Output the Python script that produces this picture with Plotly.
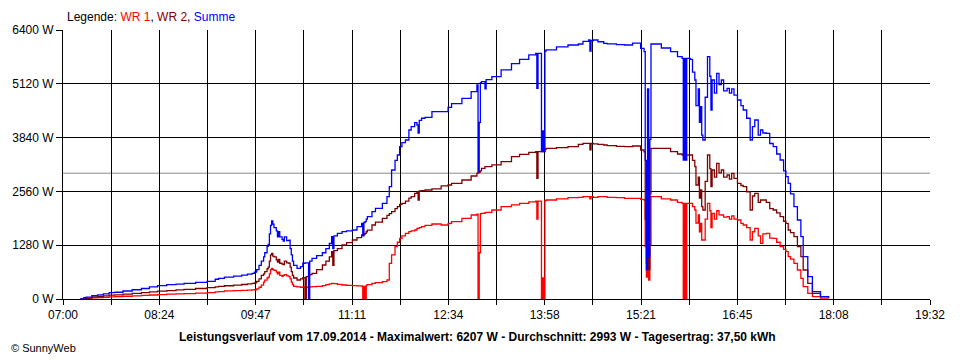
import plotly.graph_objects as go

# ---------------- data ----------------
times = ["07:15","07:18","07:20","07:25","07:30","07:35","07:40","07:45","07:52","08:00",
         "08:08","08:15","08:22","08:30","08:38","08:45","08:55","09:05","09:12","09:15",
         "09:20","09:28","09:35","09:40","09:44","09:46","09:48","09:50","09:52","09:54",
         "09:55","09:57","09:58","09:59","10:00","10:01","10:02","10:03","10:05","10:06",
         "10:07","10:08","10:10","10:11","10:12","10:14","10:16","10:17","10:18","10:19",
         "10:20","10:23","10:26","10:28","10:30","10:31","10:33","10:34","10:36","10:40",
         "10:45","10:48","10:51","10:53","10:54","10:55","10:58","11:02","11:06","11:11",
         "11:15","11:19","11:20","11:21","11:22","11:23","11:24","11:28","11:31","11:37",
         "11:41","11:43","11:45","11:48","11:50","11:52","11:54","11:57","12:00","12:02",
         "12:05","12:07","12:08","12:09","12:11","12:14","12:20","12:28","12:34","12:37",
         "12:46","12:54","12:59","13:00","13:01","13:02","13:03","13:06","13:07","13:12",
         "13:20","13:29","13:36","13:44","13:50","13:51","13:52","13:55","13:56","13:57",
         "13:58","13:59","14:08","14:18","14:27","14:31","14:36","14:37","14:38","14:40",
         "14:44","14:49","14:52","15:00","15:07","15:14","15:21","15:24","15:25","15:26",
         "15:27","15:28","15:29","15:30","15:39","15:47","15:53","15:57","15:58","15:59",
         "16:00","16:01","16:04","16:06","16:08","16:09","16:11","16:12","16:13","16:14",
         "16:15","16:17","16:19","16:21","16:22","16:23","16:25","16:27","16:29","16:31",
         "16:33","16:36","16:38","16:40","16:42","16:45","16:48","16:50","16:53","16:56",
         "16:58","17:00","17:03","17:05","17:07","17:10","17:13","17:16","17:19","17:22",
         "17:25","17:27","17:29","17:31","17:34","17:37","17:40","17:42","17:46","17:50",
         "17:57","18:04"]

wr1 = [0,0,10,30,35,40,50,55,65,75,
       85,95,105,115,120,130,140,150,170,175,
       195,200,205,210,215,220,240,280,330,400,
       450,500,520,600,700,730,700,680,640,600,
       640,560,540,560,580,550,530,480,400,340,
       300,290,280,285,0,280,285,290,293,300,
       320,340,360,373,370,365,350,333,325,317,
       312,309,0,300,0,330,340,373,390,412,
       452,849,1050,1245,1350,1444,1500,1560,1602,1620,
       1642,1680,1680,1700,1722,1750,1784,1761,1800,1840,
       1920,1999,2020,0,1100,2030,2039,2053,2060,2117,
       2196,2240,2276,2310,2331,1900,2331,0,500,0,
       2340,2355,2380,2410,2420,2434,2434,2380,2434,2420,
       2434,2434,2420,2410,2394,2394,2370,2355,1245,520,
       1000,450,1300,2434,2380,2355,2300,2276,0,2276,
       0,2276,2276,2200,2117,1808,2000,1600,1801,1404,
       1404,1900,2276,2100,1700,2039,1900,2100,2000,1999,
       1950,1959,1900,1980,1900,1880,1800,1761,1700,1404,
       1600,1682,1500,1325,1550,1563,1450,1444,1350,1245,
       1180,1126,1007,950,849,690,492,293,135,55,
       20,15]

wr2 = [0,0,20,50,60,75,90,100,115,135,
       150,170,185,200,215,230,250,270,290,300,
       315,330,345,360,373,385,420,480,560,600,
       650,720,760,900,1050,1087,1020,1000,930,880,
       940,850,830,820,900,860,850,760,650,560,
       500,452,480,510,0,530,560,580,611,700,
       809,900,1000,1126,800,1150,1200,1285,1340,1404,
       1460,1523,1523,1540,1560,1600,1640,1761,1830,1920,
       1990,2030,2077,2150,2200,2250,2276,2330,2400,2434,
       2514,2550,2355,2570,2580,2593,2620,2690,2712,2750,
       2831,2926,2990,3010,3020,3050,3109,3148,3150,3190,
       3267,3386,3440,3490,3505,2871,3505,3505,3505,3505,
       3560,3585,3600,3624,3680,3704,3704,3550,3700,3690,
       3680,3664,3650,3630,3624,3640,3545,3500,1900,860,
       1600,700,2500,3585,3585,3505,3450,3426,3426,3426,
       3426,3426,3426,3300,3148,2712,2900,2400,2593,2200,
       2117,2800,3426,3100,2672,3069,2900,3228,3000,3069,
       2900,2950,2850,2990,2870,2752,2700,2672,2550,2117,
       2450,2514,2300,2355,2355,2300,2150,2117,2050,1959,
       1850,1801,1642,1580,1483,1245,1007,690,373,135,
       55,25]

summe = [0,30,45,80,100,120,150,160,190,220,
         250,290,320,340,355,370,395,420,470,490,
         520,545,570,590,610,640,700,800,900,1000,
         1100,1250,1300,1550,1750,1860,1780,1700,1620,1480,
         1600,1480,1420,1380,1480,1390,1400,1200,1050,900,
         800,730,770,850,860,860,0,900,968,1030,
         1100,1200,1320,1483,1200,1500,1560,1602,1620,1642,
         1720,1801,1500,1820,1840,1900,1959,2080,2157,2276,
         2434,2672,3069,3300,3426,3624,3720,3783,4021,4100,
         4195,4140,3950,4250,4300,4322,4457,4457,4560,4650,
         4775,4933,5092,3029,4200,5150,5171,5000,5220,5290,
         5449,5600,5700,5806,5846,5013,5846,3505,4000,3505,
         5900,5925,6000,6043,6067,6130,6162,5900,6150,6162,
         6120,6083,6070,6050,6043,6090,5965,5886,3300,700,
         5000,1000,3800,6067,5972,5886,5766,5727,3307,5727,
         3307,5727,5700,5400,5211,4600,5000,4200,4576,3900,
         3783,4800,5766,5300,4497,5211,4900,5370,5100,5211,
         4950,5013,4900,5000,4850,4735,4600,4497,4300,3783,
         4100,4259,3900,4021,3950,3942,3700,3624,3450,3307,
         3050,2910,2752,2500,2196,1880,1483,1007,530,174,
         55,40]

y_ticks = [0, 1280, 2560, 3840, 5120, 6400]
y_labels = ["0 W", "1280 W", "2560 W", "3840 W", "5120 W", "6400 W"]
x_labels = ["07:00", "08:24", "09:47", "11:11", "12:34", "13:58", "15:21", "16:45", "18:08", "19:32"]
average = 2993

title_text = ("Leistungsverlauf vom 17.09.2014 - Maximalwert: 6207 W - "
              "Durchschnitt: 2993 W - Tagesertrag: 37,50 kWh")

# ---------------- helpers ----------------
def to_min(s):
    h, m = s.split(":")
    return int(h) * 60 + int(m)

x = [to_min(t) for t in times]
x_start = to_min(x_labels[0])
x_end = to_min(x_labels[-1])
n_grid = 2 * (len(x_labels) - 1)
grid_vals = [x_start + i * (x_end - x_start) / n_grid for i in range(n_grid + 1)]
grid_text = [x_labels[i // 2] if i % 2 == 0 else "" for i in range(n_grid + 1)]

FONT = "Liberation Sans, Arial, sans-serif"

fig = go.Figure()
for name, vals, col in [("WR 1", wr1, "#ff0000"), ("WR 2", wr2, "#800000"), ("Summe", summe, "#0000ff")]:
    fig.add_trace(go.Scatter(x=x, y=vals, mode="lines", name=name,
                             line=dict(color=col, width=1.3, shape="hv")))

fig.add_shape(type="line", xref="paper", x0=0, x1=1, yref="y", y0=average, y1=average,
              line=dict(color="#8c8c8c", width=1), layer="below")

fig.update_layout(
    width=960, height=360,
    margin=dict(l=60, r=30, t=30, b=61),
    paper_bgcolor="white", plot_bgcolor="white",
    showlegend=False,
    font=dict(family=FONT, size=12, color="black"),
    xaxis=dict(range=[x_start, x_end], tickvals=grid_vals, ticktext=grid_text,
               showgrid=True, gridcolor="black", gridwidth=1,
               showline=True, linecolor="black", linewidth=1, mirror=False,
               ticks="outside", ticklen=5, tickcolor="black", zeroline=False,
               tickfont=dict(family=FONT, size=12)),
    yaxis=dict(range=[0, 6400], tickvals=y_ticks, ticktext=y_labels,
               showgrid=True, gridcolor="black", gridwidth=1,
               showline=True, linecolor="black", linewidth=1,
               ticks="outside", ticklen=6, tickcolor="black", zeroline=False,
               tickfont=dict(family=FONT, size=12)),
    annotations=[
        dict(xref="paper", yref="paper", x=0.002, y=1.048, xanchor="left", yanchor="middle",
             showarrow=False, font=dict(family=FONT, size=12),
             text="Legende: <span style='color:#ff0000'>WR 1</span>, "
                  "<span style='color:#800000'>WR 2</span>, "
                  "<span style='color:#0000ff'>Summe</span>"),
        dict(xref="paper", yref="paper", x=0.478, y=-0.141, xanchor="center", yanchor="middle",
             showarrow=False, font=dict(family=FONT, size=12, color="black"),
             text="<b>" + title_text + "</b>"),
        dict(xref="paper", yref="paper", x=-0.062, y=-0.182, xanchor="left", yanchor="middle",
             showarrow=False, font=dict(family=FONT, size=11),
             text="© SunnyWeb"),
    ],
)

fig.write_html("out.html", config={"displayModeBar": False},
               post_script="document.body.style.margin='0';document.body.style.overflow='hidden';")
